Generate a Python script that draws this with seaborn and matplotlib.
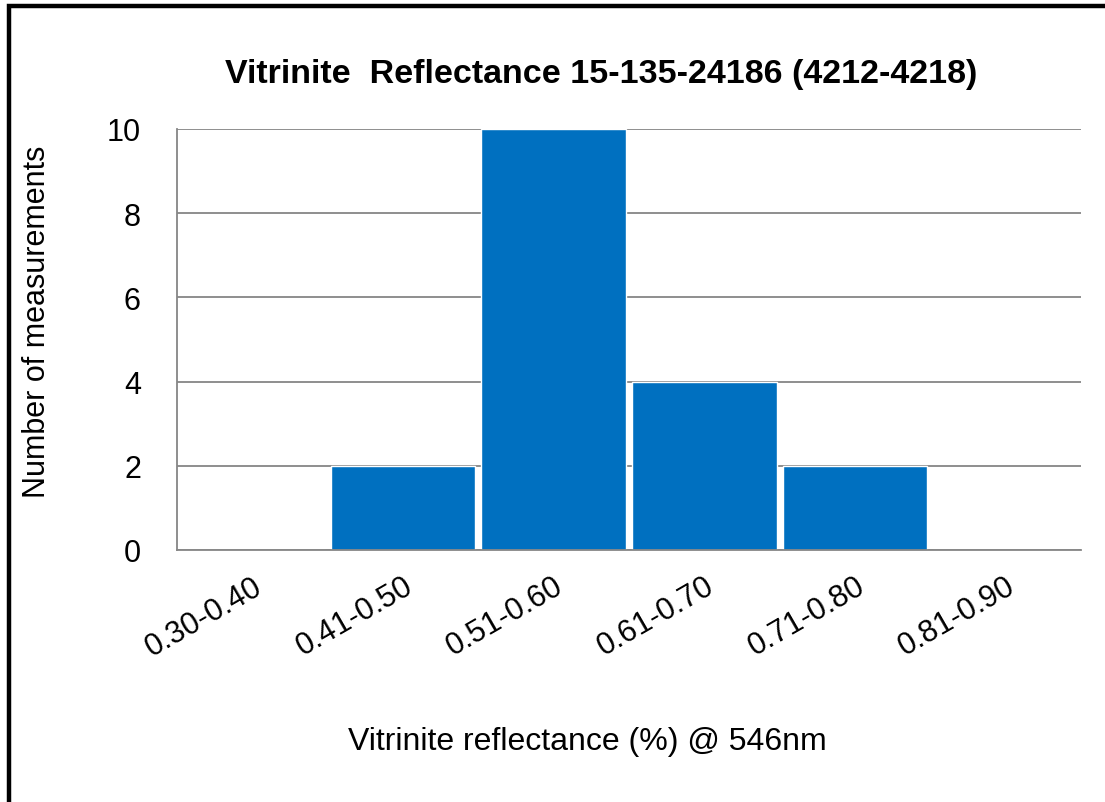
import numpy as np
import pandas as pd
import seaborn as sns
import matplotlib.pyplot as plt
from matplotlib.patches import Rectangle
from matplotlib.ticker import FixedLocator

# ----- Data -----
bins = ["0.30-0.40", "0.41-0.50", "0.51-0.60", "0.61-0.70", "0.71-0.80", "0.81-0.90"]
counts = [0, 2, 10, 4, 2, 0]

df = pd.DataFrame({"bin": bins, "count": counts})

sns.set_style("white")
plt.rcParams["font.family"] = ["Liberation Sans", "DejaVu Sans"]
plt.rcParams["text.color"] = "black"
plt.rcParams["axes.labelcolor"] = "black"

fig = plt.figure(figsize=(11.05, 8.03), dpi=100)
ax = fig.add_axes([177 / 1105, 1 - 551 / 803, (1081 - 177) / 1105, (551 - 130) / 803])

sns.barplot(data=df, x="bin", y="count", color="#0070C0", saturation=1,
            width=0.96, ax=ax, zorder=3)

ax.set_xlim(-0.5, len(bins) - 0.5)
ax.set_ylim(0, 10)
ax.set_yticks(np.arange(0, 11, 2))
ax.yaxis.grid(True, color="#868686", linewidth=1.3, zorder=0)

# labels centred under categories, tick marks at category edges
ax.set_xticks(range(len(bins)))
ax.set_xticklabels(bins, rotation=30, ha="right", rotation_mode="anchor", fontsize=22)
ax.tick_params(axis="x", which="major", length=0, pad=15, labelcolor="black")
ax.xaxis.set_minor_locator(FixedLocator(np.arange(-0.5, len(bins), 1.0)))
ax.tick_params(axis="x", which="minor", length=12, width=1.3, color="#868686")
ax.tick_params(axis="y", length=11, width=1.3, color="#868686", labelsize=22,
               pad=15, labelcolor="black")

for side in ["top", "right"]:
    ax.spines[side].set_visible(False)
for side in ["left", "bottom"]:
    ax.spines[side].set_color("#868686")
    ax.spines[side].set_linewidth(1.3)
    ax.spines[side].set_zorder(4)

ax.set_xlabel("")
ax.set_ylabel("Number of measurements", fontsize=22)
ax.yaxis.set_label_coords(-(177 - 52) / (1081 - 177), (551 - 322) / (551 - 130))
fig.text(587 / 1105, 1 - 742 / 803, "Vitrinite reflectance (%) @ 546nm",
         ha="center", va="center", fontsize=23)
fig.text(601 / 1105, 1 - 75 / 803, "Vitrinite  Reflectance 15-135-24186 (4212-4218)",
         ha="center", va="center", fontsize=24.5, fontweight="bold")

# black frame around the chart (right and bottom run off the image)
fig.patches.append(Rectangle((8.5 / 1105, -0.05), 1.1, 1.05 - 6.5 / 803,
                             transform=fig.transFigure, fill=False,
                             edgecolor="black", linewidth=3.2))

fig.savefig("out.png", dpi=100)
